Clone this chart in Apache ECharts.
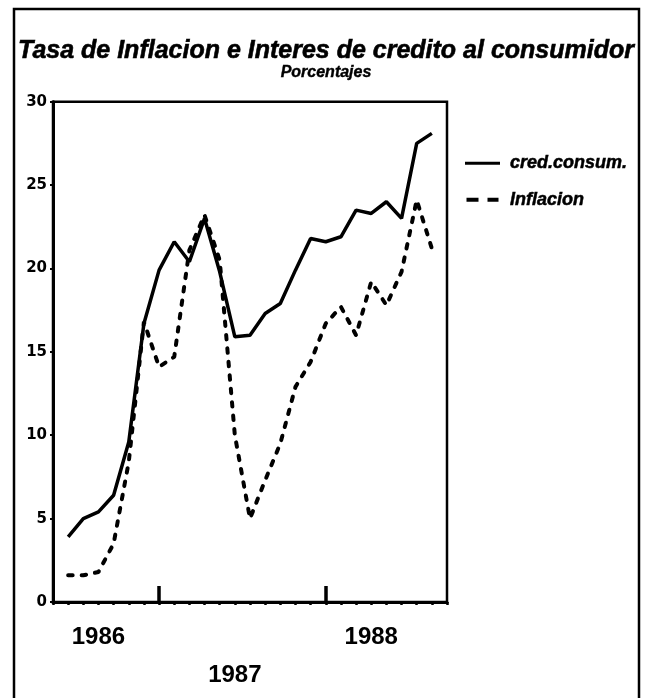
<!DOCTYPE html>
<html><head><meta charset="utf-8">
<script src="https://cdn.jsdelivr.net/npm/echarts@6/dist/echarts.min.js"></script>
<style>html,body{margin:0;padding:0;background:#fff}#c{width:652px;height:698px}</style>
</head><body><div id="c"></div>
<script>
// Monthly values, slot 1..25 on the time axis (slot 0 and 26 are the axis ends)
const credito = [3.9, 5.0, 5.4, 6.4, 9.6, 16.7, 19.9, 21.6, 20.4, 23.0, 19.8, 15.9, 16.0,
                 17.3, 17.9, 19.9, 21.8, 21.6, 21.9, 23.5, 23.3, 24.0, 23.0, 27.5, 28.1];
const inflacion = [1.6, 1.6, 1.8, 3.5, 8.4, 16.8, 14.1, 14.7, 21.1, 23.2, 20.5, 10.0, 5.0,
                   7.3, 9.5, 12.9, 14.4, 16.7, 17.7, 16.0, 19.2, 17.8, 19.8, 24.1, 21.2];
const yearLabelsTop = {3: '1986', 21: '1988'};
const yearLabelsLow = {12: '1987'};
const majorTicks = [7, 18];
const axisSlots = 26;

const chart = echarts.init(document.getElementById('c'));
const blk = '#000';
chart.setOption({
  animation: false,
  backgroundColor: '#fff',
  title: [
    {text: 'Tasa de Inflacion e Interes de credito al consumidor', left: 'center', top: 39, padding: 0,
     textStyle: {fontFamily: 'Liberation Sans', fontSize: 25, fontWeight: 'bold', fontStyle: 'italic', color: blk,
                 textBorderColor: blk, textBorderWidth: 0.6}},
    {text: 'Porcentajes', left: 'center', top: 65, padding: 0,
     textStyle: {fontFamily: 'Liberation Sans', fontSize: 16, fontWeight: 'bold', fontStyle: 'italic', color: blk,
                 textBorderColor: blk, textBorderWidth: 0.4}}
  ],
  legend: {
    orient: 'vertical', left: 465, top: 154, padding: 0,
    itemWidth: 35, itemHeight: 4, itemGap: 18,
    textStyle: {fontFamily: 'Liberation Sans', fontSize: 18, fontWeight: 'bold', fontStyle: 'italic', color: blk,
                padding: [0, 0, 0, 5], textBorderColor: blk, textBorderWidth: 0.5},
    data: [
      {name: 'cred.consum.', icon: 'path://M0,0.5H35V3.5H0Z', itemStyle: {color: blk}},
      {name: 'Inflacion', icon: 'path://M0,0H12V4H0ZM21,0H32V4H21Z', itemStyle: {color: blk}}
    ]
  },
  grid: {left: 53, top: 101.7, right: 205, bottom: 96, show: true, borderColor: blk, borderWidth: 2.5},
  xAxis: [
    {type: 'value', min: 0, max: axisSlots, interval: 1, position: 'bottom',
     axisLine: {show: true, lineStyle: {color: blk, width: 3}},
     axisTick: {show: true, length: 3, lineStyle: {color: blk, width: 2.5}},
     splitLine: {show: false},
     axisLabel: {customValues: [3, 21], formatter: v => yearLabelsTop[v] || '', margin: 23,
                 fontFamily: 'Liberation Sans', fontSize: 24, fontWeight: 'bold', color: blk}},
    {type: 'value', min: 0, max: axisSlots, interval: 1, position: 'bottom',
     axisLine: {show: false},
     axisTick: {show: true, customValues: majorTicks, inside: true, length: 16, lineStyle: {color: blk, width: 3.5}},
     splitLine: {show: false},
     axisLabel: {customValues: [12], formatter: v => yearLabelsLow[v] || '', margin: 61,
                 fontFamily: 'Liberation Sans', fontSize: 24, fontWeight: 'bold', color: blk}}
  ],
  yAxis: {
    type: 'value', min: 0, max: 30, interval: 5,
    axisLine: {show: true, lineStyle: {color: blk, width: 3}},
    axisTick: {show: true, length: 3, lineStyle: {color: blk, width: 2}},
    splitLine: {show: false},
    axisLabel: {margin: 6, fontFamily: 'DejaVu Sans', fontSize: 15, fontWeight: 'bold', color: blk}
  },
  series: [
    {name: 'cred.consum.', type: 'line', symbol: 'none', data: credito.map((v, i) => [i + 1, v]),
     lineStyle: {color: blk, width: 3.5}, itemStyle: {color: blk}},
    {name: 'Inflacion', type: 'line', symbol: 'none', data: inflacion.map((v, i) => [i + 1, v]),
     lineStyle: {color: blk, width: 4, type: [4.5, 9], cap: 'round'}, itemStyle: {color: blk}}
  ],
  graphic: [
    {type: 'rect', silent: true, shape: {x: 14, y: 9, width: 625, height: 720},
     style: {fill: 'none', stroke: blk, lineWidth: 2.5}}
  ]
});
</script>
</body></html>
